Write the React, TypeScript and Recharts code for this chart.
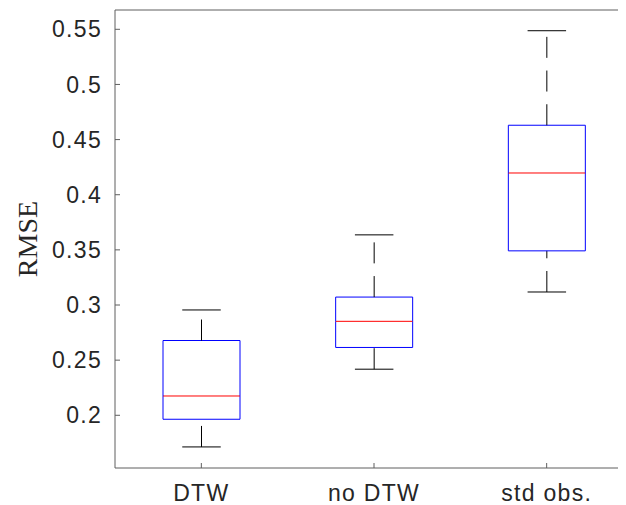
import React from "react";
import { BarChart, Bar, XAxis, YAxis } from "recharts";

// five-number summaries
const groups = ["DTW", "no DTW", "std obs."];
const whiskerLow = [0.1713, 0.2418, 0.3118];
const q1 = [0.1964, 0.2615, 0.3491];
const median = [0.2175, 0.2852, 0.4197];
const q3 = [0.2678, 0.3072, 0.463];
const whiskerHigh = [0.2955, 0.3636, 0.5487];

const yTicks = [0.2, 0.25, 0.3, 0.35, 0.4, 0.45, 0.5, 0.55];

// stacked segments: base -> lower whisker -> lower box -> upper box -> upper whisker
const rows = groups.map((name, i) => ({
  name,
  base: whiskerLow[i],
  lowWhisker: q1[i] - whiskerLow[i],
  lowBox: median[i] - q1[i],
  highBox: q3[i] - median[i],
  highWhisker: whiskerHigh[i] - q3[i],
}));

const FONT = "'Liberation Sans', Arial, Helvetica, sans-serif";
const AXIS = "#5f5f5f";
const DASH = "21 12.7";

const Empty = () => null;

const LowWhisker = (p: any) => {
  const { x, y, width, height } = p;
  const cx = x + width / 2;
  return (
    <g>
      <line x1={cx} y1={y + height} x2={cx} y2={y} stroke="#000" strokeWidth={1} strokeDasharray={DASH} />
      <line x1={cx - width / 4} y1={y + height} x2={cx + width / 4} y2={y + height} stroke="#000" strokeWidth={1} />
    </g>
  );
};

const HighWhisker = (p: any) => {
  const { x, y, width, height } = p;
  const cx = x + width / 2;
  return (
    <g>
      <line x1={cx} y1={y + height} x2={cx} y2={y} stroke="#000" strokeWidth={1} strokeDasharray={DASH} />
      <line x1={cx - width / 4} y1={y} x2={cx + width / 4} y2={y} stroke="#000" strokeWidth={1} />
    </g>
  );
};

const LowBox = (p: any) => {
  const { x, y, width, height } = p;
  return (
    <g>
      <polyline
        points={`${x},${y} ${x},${y + height} ${x + width},${y + height} ${x + width},${y}`}
        fill="none"
        stroke="#0000ff"
        strokeWidth={1}
      />
      <line x1={x} y1={y} x2={x + width} y2={y} stroke="#ff0000" strokeWidth={1} />
    </g>
  );
};

const HighBox = (p: any) => {
  const { x, y, width, height } = p;
  return (
    <polyline
      points={`${x},${y + height} ${x},${y} ${x + width},${y} ${x + width},${y + height}`}
      fill="none"
      stroke="#0000ff"
      strokeWidth={1}
    />
  );
};

const YLabel = (props: any) => {
  const vb = props.viewBox;
  const cy = vb.y + vb.height / 2;
  return (
    <text
      x={28.5}
      y={cy}
      transform={`rotate(-90, 28.5, ${cy})`}
      textAnchor="middle"
      fontFamily="'Liberation Serif', 'Times New Roman', serif"
      fontSize={28}
      fill="#262626"
    >
      RMSE
    </text>
  );
};

export default function App() {
  return (
    <div style={{ width: 618, height: 497, overflow: "hidden" }}>
      <BarChart
        width={625}
        height={497}
        data={rows}
        margin={{ top: 0, right: 0, bottom: 0, left: 0 }}
        barSize={77}
      >
        <XAxis
          dataKey="name"
          height={37}
          tickSize={-5}
          tickMargin={22}
          axisLine={{ stroke: AXIS }}
          tickLine={{ stroke: AXIS }}
          tick={{ fontFamily: FONT, fontSize: 23, fill: "#262626", letterSpacing: 1.3 }}
        />
        <XAxis
          xAxisId="top"
          orientation="top"
          dataKey="name"
          height={2}
          tickSize={-5}
          tick={false}
          axisLine={{ stroke: AXIS }}
          tickLine={{ stroke: AXIS }}
        />
        <YAxis
          width={107}
          type="number"
          domain={[0.1522, 0.5675]}
          allowDataOverflow
          ticks={yTicks}
          tickSize={-5}
          tickMargin={18}
          axisLine={{ stroke: AXIS }}
          tickLine={{ stroke: AXIS }}
          tick={{ fontFamily: FONT, fontSize: 23, fill: "#262626", letterSpacing: 1.3 }}
          label={<YLabel />}
        />
        <Bar dataKey="base" stackId="b" shape={<Empty />} isAnimationActive={false} />
        <Bar dataKey="lowWhisker" stackId="b" shape={<LowWhisker />} isAnimationActive={false} />
        <Bar dataKey="lowBox" stackId="b" shape={<LowBox />} isAnimationActive={false} />
        <Bar dataKey="highBox" stackId="b" shape={<HighBox />} isAnimationActive={false} />
        <Bar dataKey="highWhisker" stackId="b" shape={<HighWhisker />} isAnimationActive={false} />
      </BarChart>
    </div>
  );
}
